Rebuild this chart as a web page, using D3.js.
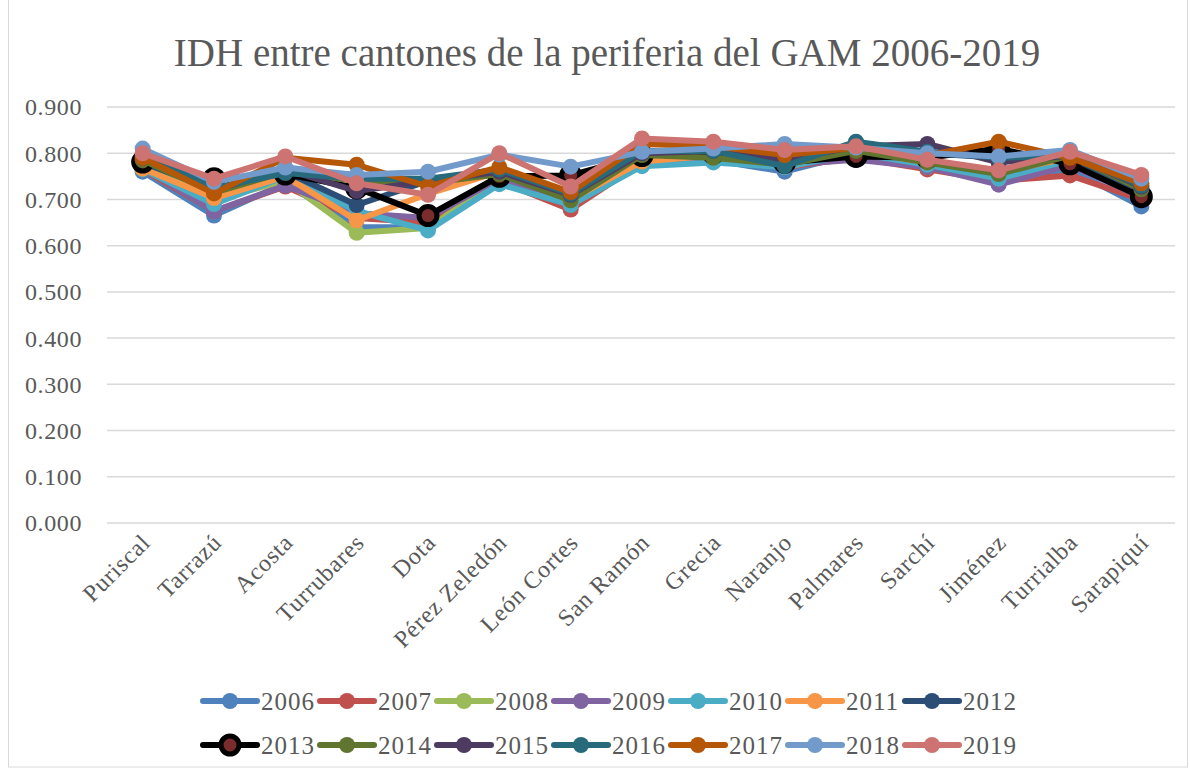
<!DOCTYPE html>
<html>
<head>
<meta charset="utf-8">
<script src="https://cdn.jsdelivr.net/npm/d3@7"></script>
<style>
  body { margin: 0; background: #fff; }
  text { font-family: "Liberation Serif", "DejaVu Serif", serif; }
</style>
</head>
<body>
<div id="chart"></div>
<script>
const cantones = ["Puriscal", "Tarrazú", "Acosta", "Turrubares", "Dota", "Pérez Zeledón", "León Cortes",
    "San Ramón", "Grecia", "Naranjo", "Palmares", "Sarchí", "Jiménez", "Turrialba", "Sarapiquí"];

const years = ["2006", "2007", "2008", "2009", "2010", "2011", "2012",
    "2013", "2014", "2015", "2016", "2017", "2018", "2019"];

const yTicks = [0, 0.1, 0.2, 0.3, 0.4, 0.5, 0.6, 0.7, 0.8, 0.9];

// IDH per year, one value per canton (in the order above)
const idh2006 = [0.760, 0.665, 0.735, 0.640, 0.640, 0.735, 0.690, 0.775, 0.785, 0.760, 0.800, 0.775, 0.740, 0.765, 0.685];
const idh2007 = [0.765, 0.675, 0.728, 0.660, 0.650, 0.740, 0.678, 0.780, 0.790, 0.770, 0.790, 0.765, 0.740, 0.752, 0.700];
const idh2008 = [0.770, 0.700, 0.740, 0.628, 0.638, 0.745, 0.695, 0.790, 0.790, 0.770, 0.800, 0.770, 0.745, 0.790, 0.710];
const idh2009 = [0.770, 0.675, 0.730, 0.670, 0.660, 0.745, 0.690, 0.785, 0.790, 0.775, 0.786, 0.770, 0.732, 0.775, 0.705];
const idh2010 = [0.765, 0.690, 0.750, 0.675, 0.633, 0.733, 0.688, 0.772, 0.780, 0.770, 0.800, 0.775, 0.745, 0.785, 0.720];
const idh2011 = [0.767, 0.703, 0.750, 0.655, 0.712, 0.760, 0.700, 0.782, 0.795, 0.780, 0.805, 0.780, 0.760, 0.790, 0.725];
const idh2012 = [0.780, 0.720, 0.760, 0.688, 0.740, 0.755, 0.710, 0.800, 0.800, 0.785, 0.815, 0.800, 0.790, 0.790, 0.720];
const idh2013 = [0.781, 0.745, 0.755, 0.725, 0.665, 0.750, 0.752, 0.795, 0.800, 0.780, 0.793, 0.790, 0.810, 0.777, 0.706];
const idh2014 = [0.785, 0.715, 0.760, 0.740, 0.735, 0.755, 0.698, 0.796, 0.790, 0.775, 0.805, 0.780, 0.755, 0.795, 0.722];
const idh2015 = [0.790, 0.720, 0.765, 0.718, 0.740, 0.760, 0.710, 0.800, 0.805, 0.785, 0.815, 0.820, 0.780, 0.795, 0.728];
const idh2016 = [0.795, 0.725, 0.757, 0.745, 0.745, 0.765, 0.712, 0.805, 0.805, 0.772, 0.825, 0.803, 0.790, 0.795, 0.730];
const idh2017 = [0.790, 0.713, 0.790, 0.775, 0.728, 0.770, 0.716, 0.820, 0.815, 0.796, 0.812, 0.795, 0.825, 0.790, 0.735];
const idh2018 = [0.810, 0.738, 0.769, 0.753, 0.760, 0.797, 0.771, 0.803, 0.810, 0.820, 0.812, 0.800, 0.793, 0.807, 0.745];
const idh2019 = [0.800, 0.745, 0.793, 0.735, 0.710, 0.800, 0.728, 0.832, 0.825, 0.807, 0.815, 0.786, 0.763, 0.803, 0.753];

const series = [idh2006, idh2007, idh2008, idh2009, idh2010, idh2011, idh2012,
    idh2013, idh2014, idh2015, idh2016, idh2017, idh2018, idh2019];

const colors = ["#4f81bd", "#c0504d", "#9bbb59", "#8064a2", "#4bacc6", "#f79646", "#2c4d75",
    "#000000", "#5f7530", "#4d3b62", "#276a7c", "#b65708", "#729aca", "#cd7371"];

const W = 1190, H = 771;
const margin = { top: 107, right: 13, bottom: 248, left: 107 };

const svg = d3.select("#chart").append("svg")
    .attr("width", W)
    .attr("height", H);

// outer chart frame
svg.append("rect")
    .attr("x", 8.5).attr("y", -1)
    .attr("width", 1179).attr("height", 768)
    .attr("fill", "none")
    .attr("stroke", "#d9d9d9");

svg.append("text")
    .attr("x", 607)
    .attr("y", 66)
    .attr("text-anchor", "middle")
    .attr("font-size", 39)
    .attr("fill", "#595959")
    .text("IDH entre cantones de la periferia del GAM 2006-2019");

const x = d3.scaleBand()
    .domain(cantones)
    .range([margin.left, W - margin.right]);

const y = d3.scaleLinear()
    .domain([0, 0.9])
    .range([H - margin.bottom, margin.top]);

// grid
svg.append("g")
    .selectAll("line")
    .data(yTicks)
    .join("line")
    .attr("x1", margin.left)
    .attr("x2", W - margin.right - 2)
    .attr("y1", d => y(d))
    .attr("y2", d => y(d))
    .attr("stroke", "#d9d9d9")
    .attr("stroke-width", 1.5);

// y labels
svg.append("g")
    .selectAll("text")
    .data(yTicks)
    .join("text")
    .attr("x", 82)
    .attr("y", d => y(d))
    .attr("dy", "0.35em")
    .attr("text-anchor", "end")
    .attr("font-size", 24)
    .attr("letter-spacing", 0.6)
    .attr("fill", "#595959")
    .text(d => d3.format(".3f")(d));

// category labels, rotated
svg.append("g")
    .selectAll("text")
    .data(cantones)
    .join("text")
    .attr("transform", d => `translate(${x(d) + x.bandwidth() / 2 + 9}, ${y(0) + 21}) rotate(-45)`)
    .attr("text-anchor", "end")
    .attr("font-size", 24)
    .attr("letter-spacing", 0.8)
    .attr("fill", "#595959")
    .text(d => d);

const line = d3.line()
    .x((d, i) => x(cantones[i]) + x.bandwidth() / 2)
    .y(d => y(d));

const g = svg.selectAll(".serie")
    .data(series)
    .join("g")
    .attr("class", "serie");

g.append("path")
    .attr("d", d => line(d))
    .attr("fill", "none")
    .attr("stroke", (d, i) => colors[i])
    .attr("stroke-width", 6)
    .attr("stroke-linejoin", "round")
    .attr("stroke-linecap", "round");

g.each(function (vals, si) {
    d3.select(this).selectAll("circle")
        .data(vals)
        .join("circle")
        .attr("cx", (d, i) => x(cantones[i]) + x.bandwidth() / 2)
        .attr("cy", d => y(d))
        .attr("r", si === 7 ? 9 : 8)
        .attr("fill", si === 7 ? "#7a2c2c" : colors[si])
        .attr("stroke", si === 7 ? "#000" : "none")
        .attr("stroke-width", si === 7 ? 5 : 0);
});

// legend, two rows of seven
const legend = svg.append("g")
    .selectAll("g")
    .data(years)
    .join("g")
    .attr("transform", (d, i) => `translate(${203 + (i % 7) * 117}, ${i < 7 ? 701 : 745})`);

legend.append("line")
    .attr("x1", 0).attr("x2", 54)
    .attr("stroke", (d, i) => colors[i])
    .attr("stroke-width", 6)
    .attr("stroke-linecap", "round");

legend.append("circle")
    .attr("cx", 27)
    .attr("r", (d, i) => i === 7 ? 9 : 8)
    .attr("fill", (d, i) => i === 7 ? "#7a2c2c" : colors[i])
    .attr("stroke", (d, i) => i === 7 ? "#000" : "none")
    .attr("stroke-width", (d, i) => i === 7 ? 5 : 0);

legend.append("text")
    .attr("x", 58)
    .attr("dy", "0.35em")
    .attr("font-size", 25)
    .attr("letter-spacing", 1)
    .attr("fill", "#595959")
    .text(d => d);
</script>
</body>
</html>
